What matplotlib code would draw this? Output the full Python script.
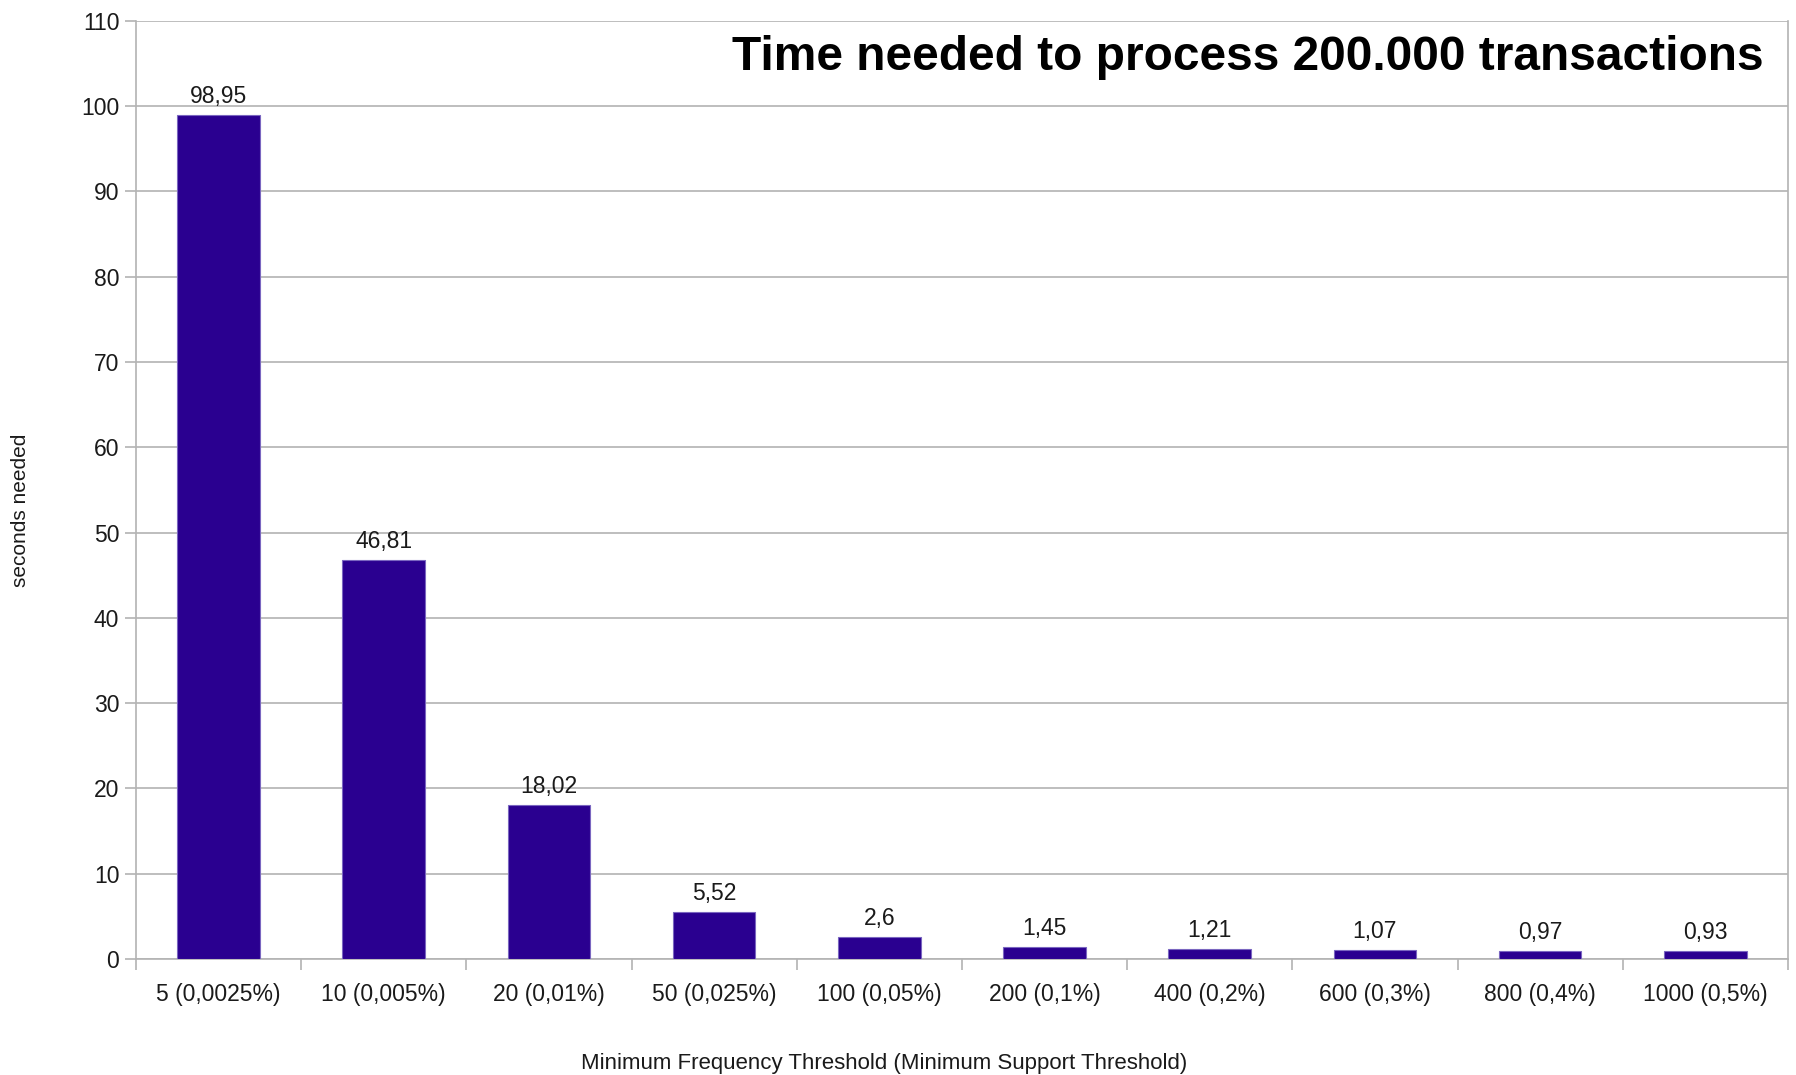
import matplotlib
matplotlib.use("Agg")
import matplotlib.pyplot as plt
import numpy as np

plt.rcParams['font.family'] = ['Liberation Sans', 'DejaVu Sans']

categories = ["5 (0,0025%)", "10 (0,005%)", "20 (0,01%)", "50 (0,025%)", "100 (0,05%)",
              "200 (0,1%)", "400 (0,2%)", "600 (0,3%)", "800 (0,4%)", "1000 (0,5%)"]
seconds = [98.95, 46.81, 18.02, 5.52, 2.6, 1.45, 1.21, 1.07, 0.97, 0.93]
value_labels = ["98,95", "46,81", "18,02", "5,52", "2,6", "1,45", "1,21", "1,07", "0,97", "0,93"]
y_ticks = list(range(0, 111, 10))

grid_col = "#b3b3b3"
bar_col = "#2a0090"

fig = plt.figure(figsize=(17.96, 10.75), dpi=100)
ax = fig.add_axes([0.0757, 0.1079, 0.9198, 0.8728])

x = np.arange(len(categories))
ax.bar(x, seconds, width=0.5, color=bar_col, edgecolor="#7a66c0", linewidth=0.8, zorder=3)

for xi, v, lab in zip(x, seconds, value_labels):
    ax.annotate(lab, (xi, v), xytext=(0, 5), textcoords="offset points",
                ha="center", va="bottom", fontsize=16.5, color="#1a1a1a", zorder=4)

ax.set_xlim(-0.5, len(categories) - 0.5)
ax.set_ylim(0, 110)
ax.set_yticks(y_ticks)
ax.set_yticklabels([str(t) for t in y_ticks])
ax.yaxis.grid(True, color=grid_col, linewidth=1.2, zorder=0)
ax.set_axisbelow(True)

ax.set_xticks(x)
ax.set_xticklabels(categories)
ax.set_xticks(np.arange(-0.5, len(categories), 1.0), minor=True)
ax.tick_params(axis="x", which="major", length=0, pad=17, labelsize=16.5, labelcolor="#1a1a1a")
ax.tick_params(axis="x", which="minor", length=8, width=1.2, color=grid_col, direction="out")
ax.tick_params(axis="y", length=8, width=1.2, color=grid_col, direction="out",
               labelsize=16.5, labelcolor="#1a1a1a", pad=4)

for side in ["left", "right", "bottom"]:
    ax.spines[side].set_color(grid_col)
    ax.spines[side].set_linewidth(1.2)
ax.spines["top"].set_visible(False)

ax.set_xlabel("Minimum Frequency Threshold (Minimum Support Threshold)", fontsize=16,
              color="#1a1a1a", va="center", ha="center")
ax.xaxis.set_label_coords(0.453, -0.111)
ax.set_ylabel("seconds needed", fontsize=15, color="#1a1a1a", va="center", ha="center")
ax.yaxis.set_label_coords(-0.0696, 0.4785)

ax.text(0.985, 0.961, "Time needed to process 200.000 transactions", transform=ax.transAxes,
        ha="right", va="center", fontsize=34.5, fontweight="bold", color="black", zorder=5)

fig.savefig("out.png", dpi=100)
